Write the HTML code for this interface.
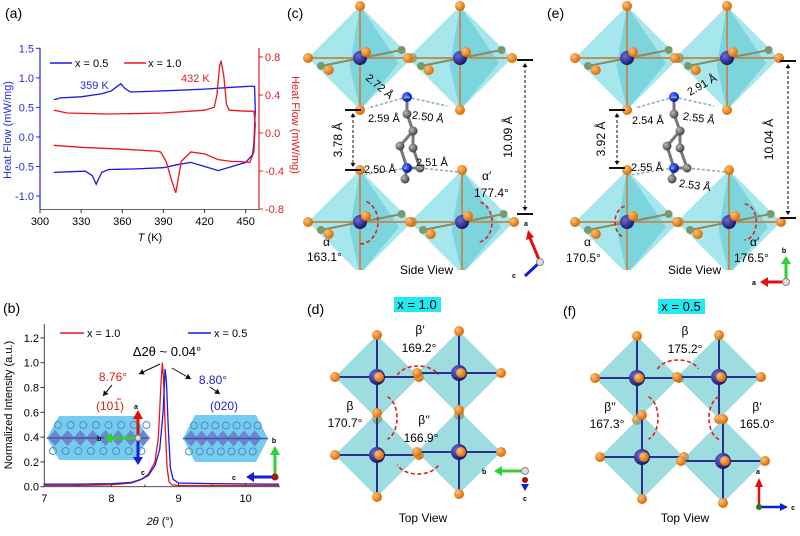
<!DOCTYPE html>
<html><head><meta charset="utf-8"><style>
html,body{margin:0;padding:0;background:#fff}
svg{display:block;font-family:"Liberation Sans",Arial,sans-serif}
</style></head><body>
<svg id="fig" width="800" height="536" viewBox="0 0 800 536" xmlns="http://www.w3.org/2000/svg">
<defs>
<radialGradient id="gOr" cx="35%" cy="35%" r="65%"><stop offset="0" stop-color="#ffc27a"/><stop offset="1" stop-color="#d96a00"/></radialGradient>
<radialGradient id="gPb" cx="35%" cy="35%" r="65%"><stop offset="0" stop-color="#6a6ad8"/><stop offset="1" stop-color="#1a1a70"/></radialGradient>
<radialGradient id="gC" cx="35%" cy="35%" r="65%"><stop offset="0" stop-color="#bbb"/><stop offset="1" stop-color="#444"/></radialGradient>
<radialGradient id="gN" cx="35%" cy="35%" r="65%"><stop offset="0" stop-color="#5a7aff"/><stop offset="1" stop-color="#0010b0"/></radialGradient>
<clipPath id="clipA"><rect x="40" y="48" width="219" height="162"/></clipPath>
<clipPath id="clipB"><rect x="44" y="324" width="236" height="163"/></clipPath>
<clipPath id="clipC"><rect x="290" y="0" width="245" height="270"/></clipPath>
<clipPath id="clipE"><rect x="555" y="0" width="245" height="270"/></clipPath>
</defs>
<g id="panelA"></g>
<g id="panelB"></g>
<g id="structs"></g>
</svg>
<script>
// ---------- Panel (a) data ----------
const aXTicks=[300,330,360,390,420,450];
const aLeftTicks=[1.5,1.0,0.5,0.0,-0.5,-1.0];
const aRightTicks=[0.8,0.4,0.0,-0.4,-0.8];
const blueT=[310,315,330,345,352,356,359,362,366,380,400,420,440,455,456.5,457,456,455,450,440,430,420,410,400,390,370,350,345,341,338,333,320,310];
const blueHF=[0.63,0.66,0.68,0.73,0.78,0.85,0.9,0.82,0.76,0.77,0.79,0.81,0.84,0.86,0.85,0.45,-0.1,-0.3,-0.43,-0.5,-0.57,-0.5,-0.43,-0.47,-0.52,-0.54,-0.55,-0.6,-0.8,-0.65,-0.58,-0.59,-0.6];
const redT=[310,320,350,390,420,427,429,431,432,434,436,438,450,456,457,456,453,445,440,430,420,410,403,399,396,392,388,385,360,330,310];
const redHF=[0.24,0.21,0.2,0.21,0.24,0.27,0.4,0.7,0.76,0.6,0.3,0.24,0.23,0.23,0.1,-0.2,-0.31,-0.3,-0.3,-0.28,-0.22,-0.2,-0.3,-0.63,-0.5,-0.3,-0.2,-0.19,-0.17,-0.15,-0.13];
// ---------- Panel (b) data ----------
const bXTicks=[7,8,9,10];
const bYTicks=[0.0,0.2,0.4,0.6,0.8,1.0,1.2];
const red2t=[7,7.5,8,8.3,8.45,8.55,8.65,8.7,8.74,8.76,8.78,8.8,8.83,8.86,8.9,9,10.5];
const redI=[0.01,0.01,0.015,0.03,0.06,0.1,0.2,0.4,0.85,1.0,0.85,0.5,0.15,0.04,0.015,0.01,0.01];
const blue2t=[7,7.5,8,8.3,8.45,8.55,8.65,8.72,8.77,8.8,8.82,8.85,8.88,8.92,9,9.5,10.5];
const blueI=[0.02,0.02,0.025,0.035,0.06,0.09,0.17,0.3,0.6,0.95,0.85,0.45,0.15,0.06,0.03,0.025,0.02];

const NS="http://www.w3.org/2000/svg";
function mk(tag,attrs,parent,text){const e=document.createElementNS(NS,tag);for(const k in attrs)e.setAttribute(k,attrs[k]);if(text!==undefined)e.textContent=text;parent.appendChild(e);return e;}

// scales (a)
const ax=t=>40+(t-300)*205.7/150;
const ayL=v=>48.3+(1.5-v)*59.1;
const ayR=v=>133+(0-v)*95;
const A=document.getElementById('panelA');
let t;
t=mk('text',{x:5,y:18,'font-size':14},A,'(a)');

let frame=mk('line',{x1:40,y1:209.5,x2:259,y2:209.5,stroke:'#333','stroke-width':0.8},A);

mk('line',{x1:40,y1:48,x2:40,y2:209.5,stroke:'#2a2ad8','stroke-width':1.2},A);
mk('line',{x1:259,y1:48,x2:259,y2:209.5,stroke:'#e02020','stroke-width':1.2},A);
aXTicks.forEach(v=>{const x=ax(v);mk('line',{x1:x,y1:209.5,x2:x,y2:213,stroke:'#333'},A);
 const l=mk('text',{x:x,y:225,'font-size':11,'text-anchor':'middle'},A,v);});
aLeftTicks.forEach(v=>{const y=ayL(v);mk('line',{x1:36,y1:y,x2:40,y2:y,stroke:'#2a2ad8'},A);
 const l=mk('text',{x:34,y:y+4,'font-size':11,'text-anchor':'end',fill:'#2a2ad8'},A,v.toFixed(1));});
aRightTicks.forEach(v=>{const y=ayR(v);mk('line',{x1:259,y1:y,x2:263,y2:y,stroke:'#e02020'},A);
 const l=mk('text',{x:265,y:y+4,'font-size':11,fill:'#e02020'},A,v.toFixed(1));});
t=mk('text',{x:0,y:0,'font-size':11,fill:'#2a2ad8','text-anchor':'middle',transform:'translate(11,130) rotate(-90)'},A,'Heat Flow (mW/mg)');

t=mk('text',{x:0,y:0,'font-size':11,fill:'#e02020','text-anchor':'middle',transform:'translate(292,125) rotate(90)'},A,'Heat Flow (mW/mg)');

t=mk('text',{x:150,y:241,'font-size':11,'text-anchor':'middle'},A);

t.innerHTML='<tspan font-style="italic">T</tspan> (K)';
let pb='';blueT.forEach((v,i)=>{pb+=(i?'L':'M')+ax(v).toFixed(1)+','+ayL(blueHF[i]).toFixed(1)});
let s=mk('path',{d:pb,fill:'none',stroke:'#1a1ae0','stroke-width':1.3,'clip-path':'url(#clipA)'},A);

let pr='';redT.forEach((v,i)=>{pr+=(i?'L':'M')+ax(v).toFixed(1)+','+ayR(redHF[i]).toFixed(1)});
s=mk('path',{d:pr,fill:'none',stroke:'#e81818','stroke-width':1.3,'clip-path':'url(#clipA)'},A);

let lg=mk('g',{},A);
mk('line',{x1:50,y1:63,x2:72,y2:63,stroke:'#1a1ae0','stroke-width':1.5},lg);mk('text',{x:75,y:67,'font-size':11},lg,'x = 0.5');
mk('line',{x1:124,y1:63,x2:146,y2:63,stroke:'#e81818','stroke-width':1.5},lg);mk('text',{x:148,y:67,'font-size':11},lg,'x = 1.0');
t=mk('text',{x:80,y:89,'font-size':11,fill:'#2a2ad8'},A,'359 K');
t=mk('text',{x:181,y:82,'font-size':11,fill:'#e02020'},A,'432 K');

// ---------- Panel (b) ----------
const bx=v=>44.3+(v-7)*67.1;
const by=v=>486.7-v*124;
const B=document.getElementById('panelB');
t=mk('text',{x:3,y:313,'font-size':14},B,'(b)');
frame=mk('path',{d:'M44.3,324 L44.3,486.7 L280,486.7',fill:'none',stroke:'#333','stroke-width':0.9},B);

bXTicks.forEach(v=>{const x=bx(v);mk('line',{x1:x,y1:486.7,x2:x,y2:483,stroke:'#333'},B);
 const l=mk('text',{x:x,y:502,'font-size':11,'text-anchor':'middle'},B,v);});
[7.5,8.5,9.5].forEach(v=>mk('line',{x1:bx(v),y1:486.7,x2:bx(v),y2:484.5,stroke:'#333'},B));
bYTicks.forEach(v=>{const y=by(v);mk('line',{x1:40.5,y1:y,x2:44.3,y2:y,stroke:'#333'},B);
 const l=mk('text',{x:39,y:y+4,'font-size':11,'text-anchor':'end'},B,v.toFixed(1));});
t=mk('text',{x:0,y:0,'font-size':11,'text-anchor':'middle',transform:'translate(12,405) rotate(-90)'},B,'Normalized Intensity (a.u.)');

t=mk('text',{x:160,y:525,'font-size':11,'text-anchor':'middle'},B);
t.innerHTML='<tspan font-style="italic">2θ</tspan> (°)';
// insets
function inset(x1,x2,y1,y2,name){const g=mk('g',{},B);
 const c=12;mk('polygon',{points:`${x1},${(y1+y2)/2} ${x1+c},${y1} ${x2-c},${y1} ${x2},${(y1+y2)/2} ${x2-c},${y2} ${x1+c},${y2}`,fill:'#63c8f0',opacity:0.9},g);
 const ym=(y1+y2)/2;
 for(let x=x1+8;x<x2-4;x+=(x2-x1)/8){mk('polygon',{points:`${x-7},${ym} ${x},${ym-8} ${x+7},${ym} ${x},${ym+8}`,fill:'#6a74c8',opacity:0.8},g);
  mk('circle',{cx:x+3,cy:ym-13,r:3.5,fill:'none',stroke:'#5a8ab8','stroke-width':1},g);mk('circle',{cx:x-2,cy:ym+13,r:3.5,fill:'none',stroke:'#5a8ab8','stroke-width':1},g);}
 mk('line',{x1:x1,y1:ym,x2:x2,y2:ym,stroke:'#5050a0','stroke-width':1.5},g);}
inset(47,148,416,460,'inset-structure-x-1.0');
inset(183,268,415,462,'inset-structure-x-0.5');
// inset axes
let ia=mk('g',{},B);
mk('line',{x1:138,y1:438,x2:138,y2:416,stroke:'#e01010','stroke-width':3},ia);mk('polygon',{points:'133,419 143,419 138,410',fill:'#e01010'},ia);
mk('line',{x1:138,y1:438,x2:110,y2:438,stroke:'#30d030','stroke-width':3},ia);mk('polygon',{points:'112,433 112,443 104,438',fill:'#30d030'},ia);
mk('line',{x1:138,y1:438,x2:138,y2:460,stroke:'#1020d0','stroke-width':3},ia);mk('polygon',{points:'133,457 143,457 138,465',fill:'#1020d0'},ia);
mk('circle',{cx:138,cy:438,r:3,fill:'#ddd',stroke:'#777'},ia);
mk('text',{x:136,y:409,'font-size':7,'font-weight':'bold','text-anchor':'middle'},ia,'a');mk('text',{x:97,y:441,'font-size':7,'font-weight':'bold'},ia,'b');mk('text',{x:141,y:475,'font-size':7,'font-weight':'bold'},ia,'c');
ia=mk('g',{},B);
mk('line',{x1:275,y1:477,x2:275,y2:452,stroke:'#30d030','stroke-width':3},ia);mk('polygon',{points:'270,455 280,455 275,446',fill:'#30d030'},ia);
mk('line',{x1:275,y1:477,x2:252,y2:477,stroke:'#1020d0','stroke-width':3},ia);mk('polygon',{points:'254,472 254,482 246,477',fill:'#1020d0'},ia);
mk('circle',{cx:275,cy:477,r:3.5,fill:'#a01818'},ia);
mk('text',{x:274,y:443,'font-size':7,'font-weight':'bold','text-anchor':'middle'},ia,'b');mk('text',{x:232,y:480,'font-size':7,'font-weight':'bold'},ia,'c');
// series
let p2='';red2t.forEach((v,i)=>{p2+=(i?'L':'M')+bx(v).toFixed(1)+','+by(redI[i]).toFixed(1)});
s=mk('path',{d:p2,fill:'none',stroke:'#e81818','stroke-width':1.3,'clip-path':'url(#clipB)'},B);
p2='';blue2t.forEach((v,i)=>{p2+=(i?'L':'M')+bx(v).toFixed(1)+','+by(blueI[i]).toFixed(1)});
s=mk('path',{d:p2,fill:'none',stroke:'#1a1ae0','stroke-width':1.3,'clip-path':'url(#clipB)'},B);
lg=mk('g',{},B);
mk('line',{x1:60,y1:333,x2:84,y2:333,stroke:'#e81818','stroke-width':1.5},lg);mk('text',{x:87,y:337,'font-size':11},lg,'x = 1.0');
mk('line',{x1:188,y1:333,x2:211,y2:333,stroke:'#1a1ae0','stroke-width':1.5},lg);mk('text',{x:214,y:337,'font-size':11},lg,'x = 0.5');
const an=mk('g',{},B);
mk('text',{x:167,y:356,'font-size':13,'text-anchor':'middle'},an,'Δ2θ ~ 0.04°');
mk('text',{x:113,y:381,'font-size':12,'text-anchor':'middle',fill:'#e01818'},an,'8.76°');
mk('text',{x:110,y:410,'font-size':12,'text-anchor':'middle',fill:'#e01818'},an,'(101)');
mk('line',{x1:117,y1:399,x2:121,y2:399,stroke:'#e01818'},an);
mk('text',{x:213,y:384,'font-size':12,'text-anchor':'middle',fill:'#2222c8'},an,'8.80°');
mk('text',{x:224,y:410,'font-size':12,'text-anchor':'middle',fill:'#2222c8'},an,'(020)');
function arr(x1,y1,x2,y2){mk('line',{x1,y1,x2,y2,stroke:'#111','stroke-width':1},an);const a=Math.atan2(y2-y1,x2-x1);
 mk('polygon',{points:`${x2},${y2} ${x2-5*Math.cos(a)+3*Math.sin(a)},${y2-5*Math.sin(a)-3*Math.cos(a)} ${x2-5*Math.cos(a)-3*Math.sin(a)},${y2-5*Math.sin(a)+3*Math.cos(a)}`,fill:'#111'},an);}
arr(160,364,139,374);arr(172,368,191,379);arr(112,385,103,396);arr(210,387,220,394);

// ---------- Structures ----------
const S=document.getElementById('structs');
function ball(g,x,y,r,fill){mk('circle',{cx:x,cy:y,r:r,fill:fill},g);}
function bond(g,x1,y1,x2,y2,c,w){mk('line',{x1,y1,x2,y2,stroke:c||'#b8925a','stroke-width':w||2},g);}
function octSide(cx,cy,r,name,clip){const g=mk('g',{'clip-path':clip},S);
 mk('polygon',{points:`${cx},${cy-r} ${cx+r},${cy} ${cx},${cy+r} ${cx-r},${cy}`,fill:'#4ed0dc',opacity:0.5},g);
 mk('polygon',{points:`${cx},${cy-r} ${cx+r*0.75},${cy+5} ${cx},${cy+r} ${cx-r*0.2},${cy+8}`,fill:'#1aa8b8',opacity:0.3},g);
 bond(g,cx-r,cy,cx+r,cy);bond(g,cx,cy-r,cx,cy+r);bond(g,cx-r*0.75,cy+8,cx+r*0.8,cy-8,'#8a8a60');
 ball(g,cx+r*0.8,cy-8,4,'#7a9a6a');ball(g,cx-r*0.75,cy+8,4,'#7a9a6a');
 ball(g,cx,cy,7,'url(#gPb)');
 [[cx,cy-r],[cx+r,cy],[cx,cy+r],[cx-r,cy],[cx+6,cy-6],[cx-r*0.6,cy+12]].forEach(p=>ball(g,p[0],p[1],5,'url(#gOr)'));}
function octTop(cx,cy,r,name){const g=mk('g',{},S);
 mk('polygon',{points:`${cx},${cy-r} ${cx+r},${cy} ${cx},${cy+r} ${cx-r},${cy}`,fill:'#5cc6cc',opacity:0.6},g);
 bond(g,cx-r,cy,cx+r,cy,'#2a3090');bond(g,cx,cy-r,cx,cy+r,'#2a3090');
 ball(g,cx,cy,8,'url(#gPb)');
 [[cx,cy-r],[cx+r,cy],[cx,cy+r],[cx-r,cy],[cx+2,cy]].forEach(p=>ball(g,p[0],p[1],5,'url(#gOr)'));}
function molecule(dx,name){const g=mk('g',{},S);
 const pts=[[407,97],[407,114],[413,131],[400,146],[407,168],[420,168],[413,148],[413,131]];
 for(let i=0;i<pts.length-1;i++)bond(g,pts[i][0]+dx,pts[i][1],pts[i+1][0]+dx,pts[i+1][1],'#777',3);
 bond(g,407+dx,168,405+dx,179,'#777',3);
 pts.forEach((p,i)=>ball(g,p[0]+dx,p[1],(i==0||i==4)?5:4.5,(i==0||i==4)?'url(#gN)':'url(#gC)'));ball(g,405+dx,179,4.5,'url(#gC)');}
function hb(x1,y1,x2,y2){mk('line',{x1,y1,x2,y2,stroke:'#8ab0b8','stroke-width':1.6,'stroke-dasharray':'3,2'},S);}
function txt(x,y,str,opt,name){const o=Object.assign({'font-size':11},opt||{});o.x=x;o.y=y;const e=mk('text',o,S,str);return e;}
function dim(x,y1,y2,tx,label,name){const g=mk('g',{},S);
 mk('line',{x1:x-8,y1:y1,x2:x+8,y2:y1,stroke:'#111','stroke-width':2},g);mk('line',{x1:x-8,y1:y2,x2:x+8,y2:y2,stroke:'#111','stroke-width':2},g);
 mk('line',{x1:x,y1:y1+5,x2:x,y2:y2-5,stroke:'#111','stroke-width':1,'stroke-dasharray':'3,2'},g);
 mk('polygon',{points:`${x-2.5},${y1+7} ${x+2.5},${y1+7} ${x},${y1+3}`,fill:'#111'},g);mk('polygon',{points:`${x-2.5},${y2-7} ${x+2.5},${y2-7} ${x},${y2-3}`,fill:'#111'},g);
 mk('text',{x:0,y:0,'font-size':12,'text-anchor':'middle',transform:`translate(${tx},${(y1+y2)/2}) rotate(-90)`},g,label);}
function arc(cx,cy,rx,ry,a1,a2){const p1=[cx+rx*Math.cos(a1),cy+ry*Math.sin(a1)],p2=[cx+rx*Math.cos(a2),cy+ry*Math.sin(a2)];
 mk('path',{d:`M${p1[0]},${p1[1]} A${rx},${ry} 0 0 1 ${p2[0]},${p2[1]}`,fill:'none',stroke:'#e02020','stroke-width':1.6,'stroke-dasharray':'4,2.5'},S);}

// panel c & e (side views)
[[0,'c'],[267,'e']].forEach(([dx,k])=>{
 const clip=k=='c'?'url(#clipC)':'url(#clipE)';
 octSide(360+dx,58,52,`octahedron-${k}-top-left`,clip);octSide(460+dx,58,52,`octahedron-${k}-top-right`,clip);
 octSide(360+dx,222,52,`octahedron-${k}-bottom-left`,clip);octSide(462+dx,222,52,`octahedron-${k}-bottom-right`,clip);
 molecule(dx,`organic-cation-${k}`);
 hb(407+dx,97,368+dx,108);hb(407+dx,97,447+dx,106);hb(407+dx,168,362+dx,175);hb(420+dx,168,458+dx,172);
});
txt(287,18,'(c)',{'font-size':14},'panel-c-label');txt(547,18,'(e)',{'font-size':14},'panel-e-label');
txt(0,0,'2.72 Å',{transform:'translate(365,79) rotate(40)'});
txt(368,122,'2.59 Å');txt(412,121,'2.50 Å',{transform:'rotate(8 430 117)'});txt(364,173,'2.50 Å');txt(416,166,'2.51 Å');
txt(482,180,'α′',{'font-size':12});txt(474,197,'177.4°',{'font-size':12});
txt(323,246,'α',{'font-size':12});txt(307,261,'163.1°',{'font-size':12});
txt(400,274,'Side View',{'font-size':12},'side-view-label-c');
dim(525,60,214,512,'10.09 Å','dimension-10.09');dim(353,110,170,342,'3.78 Å','dimension-3.78');
txt(0,0,'2.91 Å',{transform:'translate(690,96) rotate(-30)'});
txt(632,124,'2.54 Å');txt(683,122,'2.55 Å',{transform:'rotate(8 700 118)'});txt(631,171,'2.55 Å');txt(679,189,'2.53 Å',{transform:'rotate(8 695 185)'});
txt(584,246,'α',{'font-size':12});txt(566,262,'170.5°',{'font-size':12});
txt(750,246,'α′',{'font-size':12});txt(734,262,'176.5°',{'font-size':12});
txt(668,274,'Side View',{'font-size':12},'side-view-label-e');
dim(788,61,218,773,'10.04 Å','dimension-10.04');dim(617,110,168,605,'3.92 Å','dimension-3.92');
arc(360,222,18,22,-1.2,1.6);arc(478,222,14,20,-1.4,1.5);arc(627,222,12,16,2.0,4.6);arc(745,222,12,18,-1.6,1.6);
// axis icons c/e
let ic=mk('g',{},S);
mk('line',{x1:540,y1:262,x2:530,y2:238,stroke:'#e01010','stroke-width':3},ic);mk('polygon',{points:'526,240 534,237 528,230',fill:'#e01010'},ic);
mk('line',{x1:540,y1:262,x2:525,y2:276,stroke:'#1020d0','stroke-width':3},ic);mk('circle',{cx:540,cy:262,r:3.5,fill:'#ddd',stroke:'#888'},ic);
mk('text',{x:524,y:226,'font-size':7,'font-weight':'bold'},ic,'a');mk('text',{x:512,y:278,'font-size':7,'font-weight':'bold'},ic,'c');
ic=mk('g',{},S);
mk('line',{x1:786,y1:282,x2:786,y2:262,stroke:'#30d030','stroke-width':3},ic);mk('polygon',{points:'781,264 791,264 786,256',fill:'#30d030'},ic);
mk('line',{x1:786,y1:282,x2:766,y2:282,stroke:'#e01010','stroke-width':3},ic);mk('polygon',{points:'768,277 768,287 760,282',fill:'#e01010'},ic);
mk('circle',{cx:786,cy:282,r:3.5,fill:'#ddd',stroke:'#888'},ic);
mk('text',{x:784,y:253,'font-size':7,'font-weight':'bold','text-anchor':'middle'},ic,'b');mk('text',{x:752,y:285,'font-size':7,'font-weight':'bold'},ic,'a');

// panel d & f (top views)
octTop(377,377,42,'octahedron-d-1');octTop(459,373,42,'octahedron-d-2');octTop(377,455,42,'octahedron-d-3');octTop(459,452,42,'octahedron-d-4');
octTop(637,378,42,'octahedron-f-1');octTop(719,377,42,'octahedron-f-2');octTop(642,457,42,'octahedron-f-3');octTop(723,461,42,'octahedron-f-4');
txt(307,314,'(d)',{'font-size':14},'panel-d-label');txt(563,316,'(f)',{'font-size':14},'panel-f-label');
let hl=mk('rect',{x:394,y:297,width:47,height:15,fill:'#22e8f0'},S);
txt(417,309,'x = 1.0',{'font-size':13,'text-anchor':'middle'},'x-1.0-title');
hl=mk('rect',{x:658,y:299,width:47,height:15,fill:'#22e8f0'},S);
txt(681,311,'x = 0.5',{'font-size':13,'text-anchor':'middle'},'x-0.5-title');
txt(420,334,'β′',{'font-size':12,'text-anchor':'middle'});txt(419,352,'169.2°',{'font-size':12,'text-anchor':'middle'});
txt(350,410,'β',{'font-size':12,'text-anchor':'middle'});txt(345,427,'170.7°',{'font-size':12,'text-anchor':'middle'});
txt(424,424,'β′′',{'font-size':12,'text-anchor':'middle'});txt(421,442,'166.9°',{'font-size':12,'text-anchor':'middle'});
txt(423,522,'Top View',{'font-size':12,'text-anchor':'middle'},'top-view-label-d');
txt(685,335,'β',{'font-size':12,'text-anchor':'middle'});txt(685,353,'175.2°',{'font-size':12,'text-anchor':'middle'});
txt(610,411,'β′′',{'font-size':12,'text-anchor':'middle'});txt(607,428,'167.3°',{'font-size':12,'text-anchor':'middle'});
txt(757,411,'β′',{'font-size':12,'text-anchor':'middle'});txt(757,428,'165.0°',{'font-size':12,'text-anchor':'middle'});
txt(685,522,'Top View',{'font-size':12,'text-anchor':'middle'},'top-view-label-f');
arc(418,380,22,14,3.5,5.9);arc(384,418,13,22,-1.3,1.3);arc(418,460,22,14,0.4,2.8);
arc(678,374,22,14,3.5,5.9);arc(645,418,13,22,-1.3,1.3);arc(722,418,13,22,1.8,4.5);
ic=mk('g',{},S);
mk('line',{x1:525,y1:471,x2:500,y2:471,stroke:'#30d030','stroke-width':3},ic);mk('polygon',{points:'502,466 502,476 494,471',fill:'#30d030'},ic);
mk('circle',{cx:525,cy:480,r:3,fill:'#a01010'},ic);mk('polygon',{points:'521,484 529,484 525,491',fill:'#1020d0'},ic);mk('circle',{cx:525,cy:471,r:3.5,fill:'#ddd',stroke:'#888'},ic);
mk('text',{x:482,y:474,'font-size':7,'font-weight':'bold'},ic,'b');mk('text',{x:523,y:501,'font-size':7,'font-weight':'bold'},ic,'c');
ic=mk('g',{},S);
mk('line',{x1:759,y1:507,x2:759,y2:485,stroke:'#e01010','stroke-width':2.5},ic);mk('polygon',{points:'755,487 763,487 759,478',fill:'#e01010'},ic);
mk('line',{x1:759,y1:507,x2:782,y2:507,stroke:'#1020d0','stroke-width':2.5},ic);mk('polygon',{points:'780,503 780,511 788,507',fill:'#1020d0'},ic);
mk('circle',{cx:759,cy:507,r:3,fill:'#208020'},ic);
mk('text',{x:756,y:474,'font-size':7,'font-weight':'bold'},ic,'a');mk('text',{x:795,y:510,'font-size':7,'font-weight':'bold','text-anchor':'end'},ic,'c');
</script>
</body></html>
